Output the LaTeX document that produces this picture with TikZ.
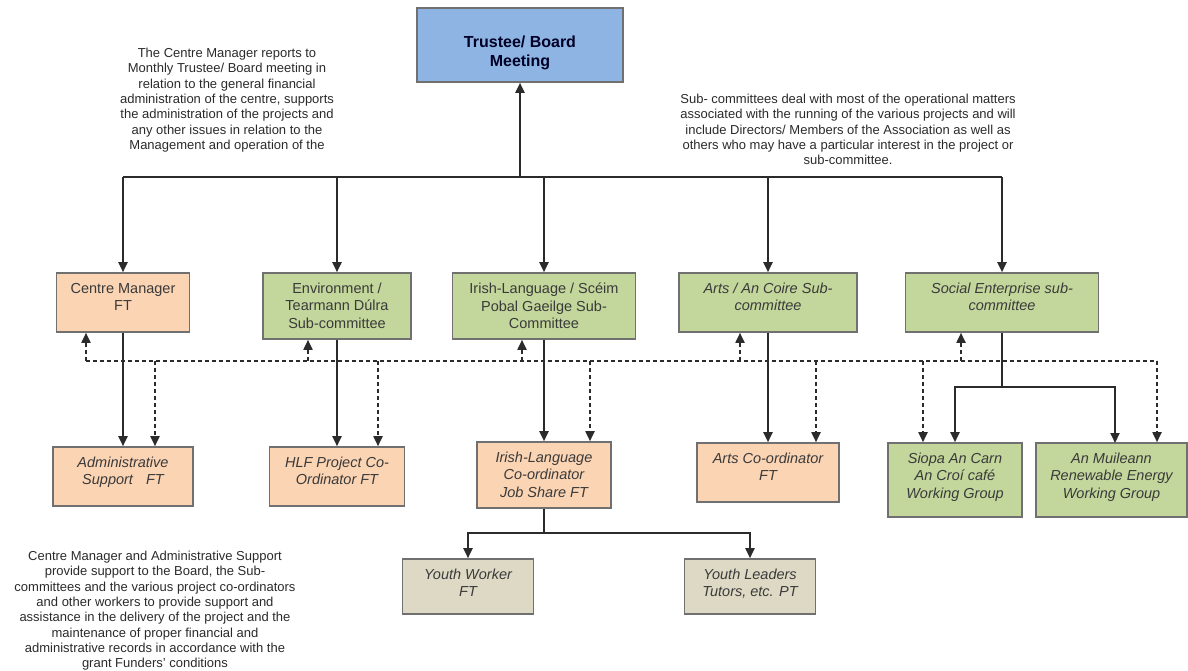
\documentclass[tikz,border=0pt]{standalone}
\usepackage{fontspec}
\setmainfont{Liberation Sans}
\usetikzlibrary{arrows.meta}
\definecolor{peach}{HTML}{FBD4B4}
\definecolor{sage}{HTML}{C3D69B}
\definecolor{sky}{HTML}{8DB4E2}
\definecolor{khaki}{HTML}{DDD9C4}
\definecolor{boxline}{HTML}{707070}
\definecolor{boxtext}{HTML}{3A3A3A}
\definecolor{notetext}{HTML}{2A2A2A}
\definecolor{lineclr}{HTML}{2B2B2B}
\begin{document}
\begin{tikzpicture}[x=1pt,y=-1pt,
  box/.style={draw=boxline, line width=1.6pt, inner sep=0pt},
  pbox/.style={box, fill=peach},
  gbox/.style={box, fill=sage},
  kbox/.style={box, fill=khaki},
  btxt/.style={anchor=north, align=center, inner sep=0pt, text=boxtext, font=\fontsize{14.5}{17.5}\selectfont},
  itxt/.style={anchor=north, align=center, inner sep=0pt, text=boxtext, font=\fontsize{14.5}{17.5}\selectfont\itshape},
  note/.style={anchor=north, align=center, inner sep=0pt, text=notetext, font=\fontsize{13}{15.3}\selectfont},
  conn/.style={line width=2pt, draw=lineclr},
  arr/.style={conn, -{Triangle[length=10pt,width=9pt]}},
  dsh/.style={line width=1.8pt, draw=lineclr, dash pattern=on 4pt off 3pt},
  darr/.style={dsh, -{Triangle[length=10pt,width=9pt]}},
]
\useasboundingbox (0,0) rectangle (1188,670);

% Top box
\node[box, fill=sky, minimum width=206pt, minimum height=74pt] (tb) at (520,45) {};
\node[anchor=north, align=center, inner sep=0pt, text=black!85!blue, font=\fontsize{16}{19}\selectfont\bfseries] (tbt) at (520,36) {Trustee/ Board\\Meeting};

% Notes
\node[note] (n1) at (227,48) {The Centre Manager reports to\\Monthly Trustee/ Board meeting in\\relation to the general financial\\administration of the centre, supports\\the administration of the projects and\\any other issues in relation to the\\Management and operation of the};
\node[note] (n2) at (848,94) {Sub- committees deal with most of the operational matters\\associated with the running of the various projects and will\\include Directors/ Members of the Association as well as\\others who may have a particular interest in the project or\\sub-committee.};
\node[note] (n3) at (155,551) {Centre Manager and Administrative Support\\provide support to the Board, the Sub-\\committees and the various project co-ordinators\\and other workers to provide support and\\assistance in the delivery of the project and the\\maintenance of proper financial and\\administrative records in accordance with the\\grant Funders' conditions};

% Row 1
\node[pbox, minimum width=133pt, minimum height=59pt] (cm) at (123,302.5) {};
\node[btxt] (cmt) at ([yshift=-10.5pt]cm.north) {Centre Manager\\FT};
\node[gbox, minimum width=148pt, minimum height=66pt] (env) at (337,306) {};
\node[btxt] (envt) at ([yshift=-10.5pt]env.north) {Environment /\\Tearmann Dúlra\\Sub-committee};
\node[gbox, minimum width=183pt, minimum height=66pt] (il) at (544,306) {};
\node[btxt] (ilt) at ([yshift=-10.5pt]il.north) {Irish-Language / Scéim\\Pobal Gaeilge Sub-\\Committee};
\node[gbox, minimum width=178pt, minimum height=59pt] (arts) at (768,302.5) {};
\node[itxt] (artst) at ([yshift=-10.5pt]arts.north) {Arts / An Coire Sub-\\committee};
\node[gbox, minimum width=193pt, minimum height=59pt] (se) at (1002,302.5) {};
\node[itxt] (set) at ([yshift=-10.5pt]se.north) {Social Enterprise sub-\\committee};

% Row 2
\node[pbox, minimum width=140pt, minimum height=59pt] (adm) at (123,476.5) {};
\node[itxt] (admt) at ([yshift=-10.5pt]adm.north) {Administrative\\Support\hspace{0.9em}FT};
\node[pbox, minimum width=135pt, minimum height=59pt] (hlf) at (337,476.5) {};
\node[itxt] (hlft) at ([yshift=-10.5pt]hlf.north) {HLF Project Co-\\Ordinator FT};
\node[pbox, minimum width=134pt, minimum height=66pt] (ic) at (544,475) {};
\node[itxt] (ict) at ([yshift=-10.5pt]ic.north) {Irish-Language\\Co-ordinator\\Job Share FT};
\node[pbox, minimum width=142pt, minimum height=59pt] (ac) at (768,472.5) {};
\node[itxt] (act) at ([yshift=-10.5pt]ac.north) {Arts Co-ordinator\\FT};
\node[gbox, minimum width=134pt, minimum height=74pt] (si) at (955,480) {};
\node[itxt] (sit) at ([yshift=-10.5pt]si.north) {Siopa An Carn\\An Croí café\\Working Group};
\node[gbox, minimum width=151pt, minimum height=74pt] (mu) at (1111.5,480) {};
\node[itxt] (mut) at ([yshift=-10.5pt]mu.north) {An Muileann\\Renewable Energy\\Working Group};

% Row 3
\node[kbox, minimum width=131pt, minimum height=55pt] (yw) at (468,586.5) {};
\node[itxt] (ywt) at ([yshift=-10.5pt]yw.north) {Youth Worker\\FT};
\node[kbox, minimum width=131pt, minimum height=55pt] (yl) at (750,586.5) {};
\node[itxt] (ylt) at ([yshift=-10.5pt]yl.north) {Youth Leaders\\Tutors, etc. PT};

% Solid bus
\coordinate (busL) at (123,177);
\coordinate (busR) at (1002,177);
\coordinate (busT) at (520,177);
\draw[conn] (busL) -- (busR);
\draw[arr] (busT) -- (tb.south);
\draw[arr] (cm.north |- busL) -- (cm.north);
\draw[arr] (env.north |- busL) -- (env.north);
\draw[arr] (il.north |- busL) -- (il.north);
\draw[arr] (arts.north |- busL) -- (arts.north);
\draw[arr] (se.north |- busL) -- (se.north);

% Row1 to Row2
\draw[arr] (cm.south) -- (cm.south |- adm.north);
\draw[arr] (env.south) -- (env.south |- hlf.north);
\draw[arr] (il.south) -- (il.south |- ic.north);
\draw[arr] (arts.south) -- (arts.south |- ac.north);

% Social branch
\coordinate (sb) at (1002,387);
\coordinate (muin) at (1115,443);
\draw[conn] (se.south) -- (sb);
\draw[arr] (sb) -| (si.north);
\draw[arr] (sb) -| (muin);

% Youth branch
\coordinate (yb) at (544,533);
\draw[conn] (ic.south) -- (yb);
\draw[arr] (yb) -| (yw.north);
\draw[arr] (yb) -| (yl.north);

% Dashed network
\coordinate (dL) at (86,361);
\coordinate (dR) at (1157,361);
\draw[dsh] (dL) -- (dR);
\coordinate (u2) at (308,361);
\coordinate (u3) at (522,361);
\coordinate (u4) at (740,361);
\coordinate (u5) at (961,361);
\draw[darr] (dL) -- (dL |- cm.south);
\draw[darr] (u2) -- (u2 |- env.south);
\draw[darr] (u3) -- (u3 |- il.south);
\draw[darr] (u4) -- (u4 |- arts.south);
\draw[darr] (u5) -- (u5 |- se.south);
\coordinate (d1) at (155,361);
\coordinate (d2) at (378,361);
\coordinate (d3) at (590,361);
\coordinate (d4) at (816,361);
\coordinate (d5) at (923,361);
\draw[darr] (d1) -- (d1 |- adm.north);
\draw[darr] (d2) -- (d2 |- hlf.north);
\draw[darr] (d3) -- (d3 |- ic.north);
\draw[darr] (d4) -- (d4 |- ac.north);
\draw[darr] (d5) -- (d5 |- si.north);
\draw[darr] (dR) -- (dR |- mu.north);
\end{tikzpicture}
\end{document}
